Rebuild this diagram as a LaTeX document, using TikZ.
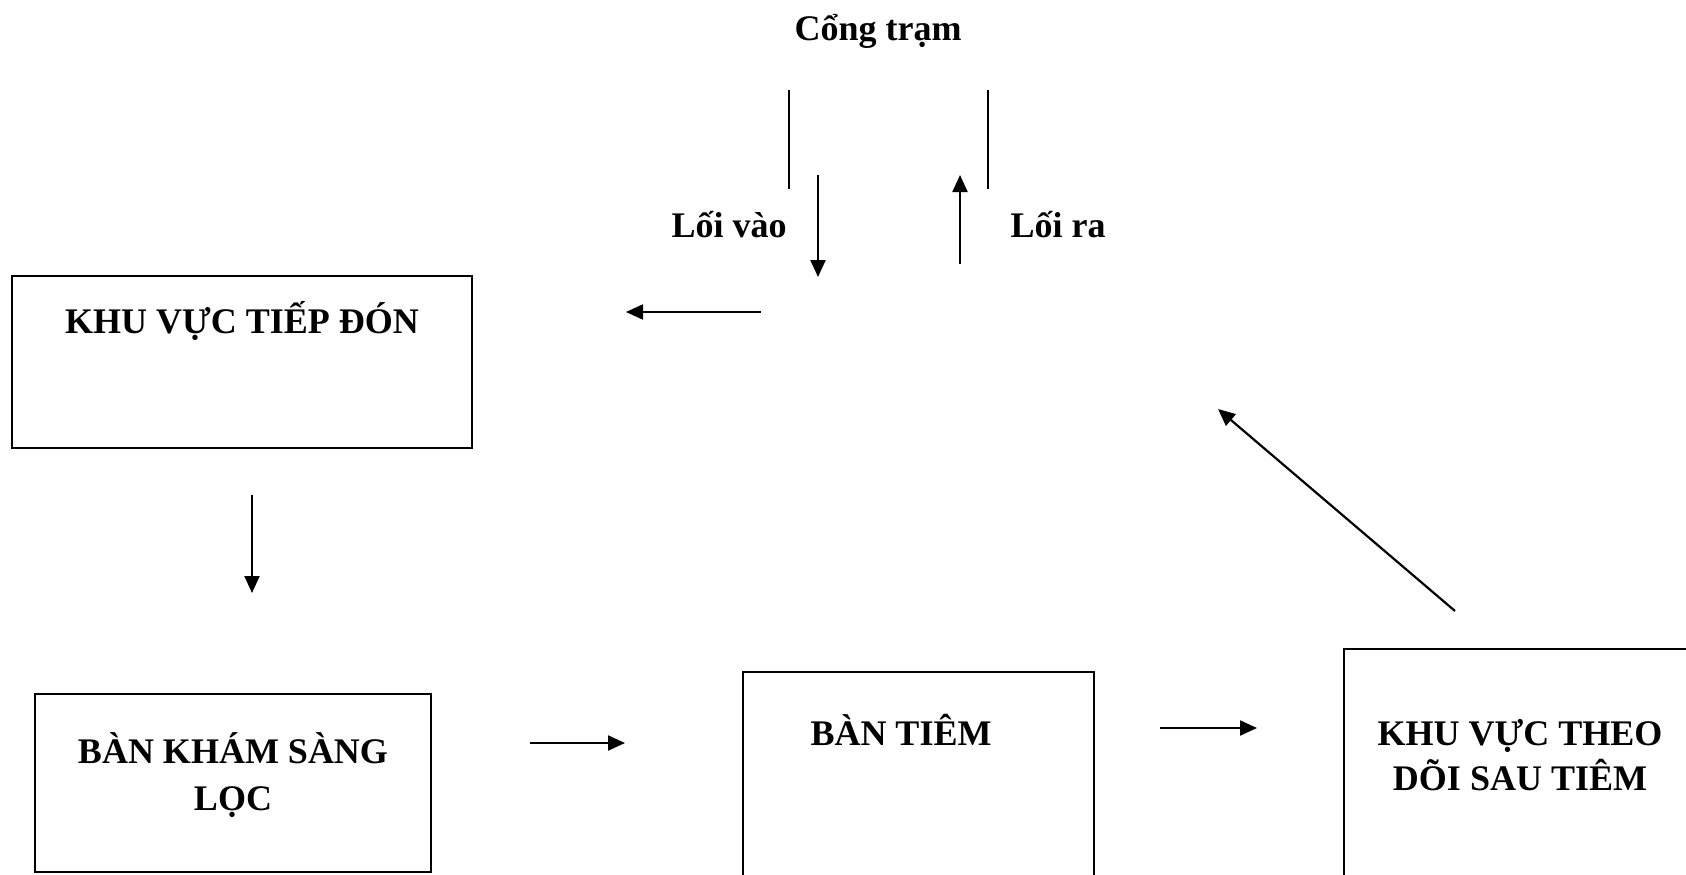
\documentclass[tikz,border=0pt]{standalone}
\usepackage{fontspec}
\setmainfont{Liberation Serif}
\usetikzlibrary{arrows.meta}
\begin{document}
\begin{tikzpicture}[x=1pt,y=-1pt,
  box/.style={draw, line width=2.6pt, inner sep=0pt, outer sep=0pt, anchor=north west},
  lbl/.style={font=\fontsize{36}{47}\selectfont\bfseries, align=center, inner sep=0pt, anchor=base},
  arr/.style={line width=2.2pt, -{Triangle[length=17pt,width=15pt]}},
  ln/.style={line width=2pt}]
\useasboundingbox (0,0) rectangle (1686,875);
\clip (0,0) rectangle (1686,875);
\fill[white] (0,0) rectangle (1686,875);

% boxes
\node[box, minimum width=460pt, minimum height=172pt] (tiepdon) at (12,276) {};
\node[box, minimum width=396pt, minimum height=178pt] (kham) at (35,694) {};
\node[box, minimum width=351pt, minimum height=260pt] (tiem) at (743,672) {};
\node[box, minimum width=400pt, minimum height=280pt] (theodoi) at (1344,649) {};

% texts
\node[lbl] (cong) at (878,41) {Cổng trạm};
\node[lbl] (loivao) at (729,237) {Lối vào};
\node[lbl] (loira) at (1058,237) {Lối ra};
\node[lbl] (ttiepdon) at (242,333) {KHU VỰC TIẾP ĐÓN};
\node[lbl] (tkham) at (233,810) {BÀN KHÁM SÀNG\\LỌC};
\node[lbl] (ttiem) at (901,745) {BÀN TIÊM};
\node[lbl, font=\fontsize{36}{45}\selectfont\bfseries] (ttheodoi) at (1520,790) {KHU VỰC THEO\\DÕI SAU TIÊM};

% gate lines
\coordinate (gl1) at (789,90);
\coordinate (gl2) at (789,189);
\coordinate (gr1) at (988,90);
\coordinate (gr2) at (988,189);
\draw[ln] (gl1) -- (gl2);
\draw[ln] (gr1) -- (gr2);

% arrow end points
\coordinate (vaoS) at (818,175);
\coordinate (vaoE) at (818,277);
\coordinate (raS) at (960,264);
\coordinate (raE) at (960,175);
\coordinate (leftS) at (761,312);
\coordinate (leftE) at (626,312);
\coordinate (dS) at (252,495);
\coordinate (dE) at (252,593);
\coordinate (h1S) at (530,743);
\coordinate (h1E) at (625,743);
\coordinate (h2S) at (1160,728);
\coordinate (h2E) at (1257,728);
\coordinate (diagS) at (1455,611);
\coordinate (diagE) at (1218,409);

\draw[arr] (vaoS) -- (vaoE);
\draw[arr] (raS) -- (raE);
\draw[arr] (leftS) -- (leftE);
\draw[arr] (dS) -- (dE);
\draw[arr] (h1S) -- (h1E);
\draw[arr] (h2S) -- (h2E);
\draw[arr] (diagS) -- (diagE);
\end{tikzpicture}
\end{document}
